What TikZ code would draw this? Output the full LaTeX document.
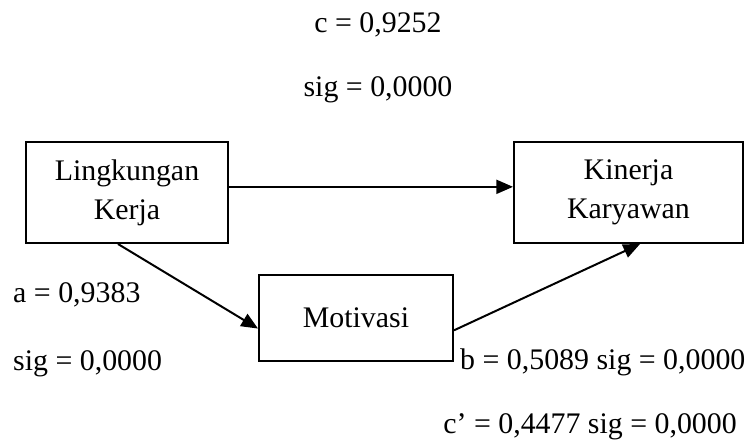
\documentclass[tikz,border=0pt]{standalone}
\usepackage{fontspec}
\setmainfont{Liberation Serif}
\usepackage{tikz}
\usetikzlibrary{arrows.meta,positioning,calc}
\tikzset{
  varbox/.style={rectangle,draw=black,fill=white,line width=1.7pt,align=center,font=\fontsize{25.5}{33}\selectfont,inner sep=2pt},
  coef/.style={font=\fontsize{25.5}{33}\selectfont,inner sep=0pt},
  arrow/.style={-{Triangle[length=5mm,width=4.2mm]},line width=1.7pt,draw=black}
}

\begin{document}
\begin{tikzpicture}
  \useasboundingbox (0,0) rectangle (22.38,-13.29);
  \node[varbox,minimum width=6.06cm,minimum height=3.03cm] (lk) at (3.81,-5.775) {Lingkungan\\Kerja};
  \node[varbox,minimum width=6.87cm,minimum height=3.03cm] (kk) at (18.855,-5.775) {Kinerja\\Karyawan};
  \node[varbox,minimum width=5.82cm,minimum height=2.58cm] (mv) at (10.68,-9.54) {Motivasi};
  % koefisien
  \node[coef,anchor=base] (c) at (11.34,-0.99) {c = 0,9252};
  \node[coef,anchor=base] (csig) at (11.34,-2.91) {sig = 0,0000};
  \node[coef,anchor=base west] (a) at (0.39,-9.06) {a = 0,9383};
  \node[coef,anchor=base west] (asig) at (0.39,-11.1) {sig = 0,0000};
  \node[coef,anchor=base west] (b) at (13.8,-11.07) {b = 0,5089 sig = 0,0000};
  \node[coef,anchor=base east] (cp) at (22.11,-12.99) {c’ = 0,4477 sig = 0,0000};
  % panah
  \coordinate (h) at ($(lk.north east)!0.445!(lk.south east)$);
  \coordinate (mvin) at ($(mv.north west)!0.62!(mv.south west)$);
  \coordinate (mvout) at ($(mv.north east)!0.64!(mv.south east)$);
  \draw[arrow] (h) -- (h -| kk.west);
  \draw[arrow] ([xshift=-0.27cm]lk.south) -- (mvin);
  \draw[arrow] (mvout) -- ([xshift=0.345cm]kk.south);
\end{tikzpicture}
\end{document}
